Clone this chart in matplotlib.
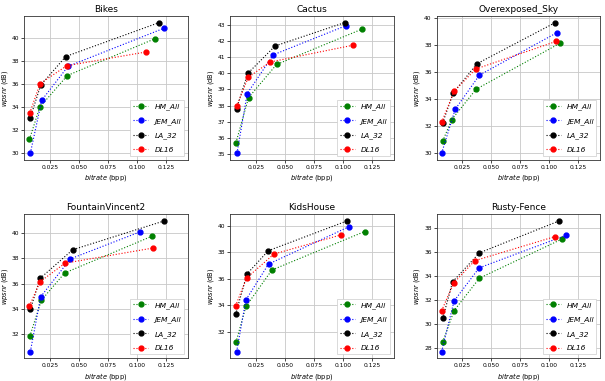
import matplotlib
matplotlib.use("Agg")
import matplotlib.pyplot as plt

# ============================================================
# DATA
# ============================================================

titles = ["Bikes", "Cactus", "Overexposed_Sky", "FountainVincent2", "KidsHouse", "Rusty-Fence"]
codecs = ["HM_All", "JEM_All", "LA_32", "DL16"]
colors = ["green", "blue", "black", "red"]

# bitrate (bpp), one list per codec
bikes_x = [[0.0075, 0.0164, 0.0402, 0.1158],
           [0.0083, 0.0181, 0.0408, 0.1233],
           [0.0083, 0.0172, 0.0388, 0.1193],
           [0.0078, 0.0167, 0.0397, 0.1083]]
bikes_y = [[31.15, 33.95, 36.7, 39.9],
           [29.95, 34.55, 37.5, 40.8],
           [33.05, 35.85, 38.35, 41.3],
           [33.45, 36.0, 37.55, 38.75]]

cactus_x = [[0.0078, 0.0187, 0.0428, 0.1167],
            [0.0087, 0.0175, 0.0400, 0.1024],
            [0.0083, 0.0180, 0.0416, 0.1017],
            [0.0083, 0.0184, 0.0370, 0.1090]]
cactus_y = [[35.7, 38.5, 40.55, 42.75],
            [35.05, 38.75, 41.15, 42.95],
            [37.8, 40.0, 41.7, 43.15],
            [37.95, 39.75, 40.7, 41.75]]

sky_x = [[0.0083, 0.0161, 0.0371, 0.1091],
         [0.0074, 0.0190, 0.0400, 0.1068],
         [0.0083, 0.0175, 0.0380, 0.1054],
         [0.0074, 0.0181, 0.0368, 0.1060]]
sky_y = [[30.85, 32.45, 34.7, 38.1],
         [29.95, 33.2, 35.75, 38.9],
         [32.2, 34.45, 36.6, 39.65],
         [32.25, 34.55, 36.2, 38.25]]

fountain_x = [[0.0078, 0.0178, 0.0379, 0.1135],
              [0.0083, 0.0172, 0.0428, 0.1026],
              [0.0083, 0.0167, 0.0448, 0.1236],
              [0.0075, 0.0167, 0.0382, 0.1138]]
fountain_y = [[31.85, 34.7, 36.85, 39.76],
              [30.65, 34.97, 37.96, 40.08],
              [33.98, 36.42, 38.68, 40.95],
              [34.25, 36.16, 37.62, 38.81]]

kids_x = [[0.0078, 0.0164, 0.0388, 0.1187],
          [0.0084, 0.0164, 0.0359, 0.1049],
          [0.0075, 0.0173, 0.0356, 0.1035],
          [0.0075, 0.0170, 0.0405, 0.0984]]
kids_y = [[31.2, 33.9, 36.65, 39.55],
          [30.5, 34.4, 37.1, 39.9],
          [33.3, 36.35, 38.1, 40.35],
          [33.95, 36.05, 37.85, 39.3]]

rusty_x = [[0.0083, 0.0181, 0.0400, 0.1112],
           [0.0074, 0.0181, 0.0397, 0.1143],
           [0.0083, 0.0169, 0.0400, 0.1086],
           [0.0074, 0.0178, 0.0360, 0.1051]]
rusty_y = [[28.5, 31.1, 33.8, 37.05],
           [27.7, 31.9, 34.65, 37.35],
           [30.45, 33.5, 35.9, 38.55],
           [31.1, 33.4, 35.25, 37.25]]

all_x = [bikes_x, cactus_x, sky_x, fountain_x, kids_x, rusty_x]
all_y = [bikes_y, cactus_y, sky_y, fountain_y, kids_y, rusty_y]


# ============================================================
# PLOT
# ============================================================

def main():
    fig, axes = plt.subplots(2, 3, figsize=(6.05, 3.81), dpi=100)
    fig.subplots_adjust(left=0.04, right=0.992, top=0.958, bottom=0.06,
                        wspace=0.26, hspace=0.38)

    for ax, title, xs, ys in zip(axes.flat, titles, all_x, all_y):
        for name, col, x, y in zip(codecs, colors, xs, ys):
            ax.plot(x, y, ":", color=col, marker="o", markersize=3.5,
                    linewidth=0.8, label=name)
        ax.set_xlim(0.003, 0.144)
        ax.set_xticks([0.025, 0.05, 0.075, 0.1, 0.125])
        ax.grid(True, linewidth=0.6, color="#c8c8c8")
        ax.set_title(title, fontsize=6.5, pad=3)
        ax.set_xlabel(r"$\it{bitrate}$ (bpp)", fontsize=4.8, labelpad=2)
        ax.set_ylabel(r"$\it{wpsnr}$ (dB)", fontsize=4.8, labelpad=1.5)
        ax.tick_params(labelsize=4.3, length=2, width=0.5, pad=1.5)
        for s in ax.spines.values():
            s.set_linewidth(0.6)
            s.set_color("#333333")
        leg = ax.legend(loc="lower right", prop={"size": 5.4, "style": "italic"},
                        labelspacing=1.0, borderaxespad=0.5, handlelength=2.0,
                        fancybox=False, framealpha=1.0)
        leg.get_frame().set_linewidth(0.5)

    fig.savefig("out.png", dpi=100)
    plt.close(fig)


if __name__ == "__main__":
    main()
